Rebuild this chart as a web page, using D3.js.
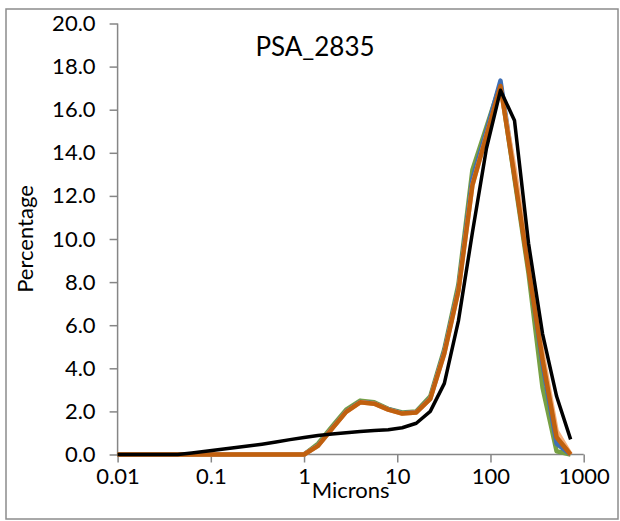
<!DOCTYPE html>
<html><head><meta charset="utf-8">
<script src="https://cdn.jsdelivr.net/npm/d3@7"></script>
<style>
html,body{margin:0;padding:0;background:#fff;}
svg{display:block;}
text{font-family:Lato,"Liberation Sans",sans-serif;fill:#000;}
</style>
</head><body>
<svg id="chart" width="620" height="521"></svg>
<script>
const microns = [0.01, 0.0156, 0.0221, 0.0313, 0.0442, 0.0625, 0.0884, 0.125, 0.177, 0.25, 0.354, 0.5, 0.707,
  1, 1.41, 2, 2.83, 4, 5.66, 8, 11.3, 16, 22.6, 32, 45.3, 64, 90.5, 128, 181, 256, 362, 512, 724];
const zeros13 = [0,0,0,0,0,0,0,0,0,0,0,0,0];
const seriesGreen  = zeros13.concat([0, 0.5, 1.3, 2.08, 2.5, 2.42, 2.12, 1.95, 2.0, 2.7, 4.9, 7.9, 13.2, 15.2, 17.2, 12.8, 8.4, 3.1, 0.15, 0]);
const seriesBlue   = zeros13.concat([0, 0.42, 1.22, 2.0, 2.44, 2.38, 2.1, 1.92, 1.97, 2.62, 4.8, 7.7, 12.8, 15.0, 17.35, 13.0, 8.7, 4.2, 0.5, 0]);
const seriesPeach  = zeros13.concat([0, 0.4, 1.2, 1.98, 2.42, 2.36, 2.08, 1.9, 1.95, 2.58, 4.7, 7.6, 12.5, 14.8, 17.0, 13.3, 9.0, 4.7, 1.1, 0]);
const seriesOrange = zeros13.concat([0, 0.4, 1.2, 1.98, 2.42, 2.36, 2.08, 1.9, 1.95, 2.58, 4.7, 7.6, 12.5, 14.8, 17.1, 12.9, 8.6, 4.4, 0.8, 0]);
const seriesBlack  = [0, 0, 0, 0, 0, 0.07, 0.15, 0.23, 0.31, 0.39, 0.48, 0.58, 0.69,
  0.79, 0.88, 0.95, 1.01, 1.07, 1.11, 1.15, 1.24, 1.45, 2.0, 3.3, 6.2, 10.3, 14.2, 16.9, 15.5, 9.8, 5.6, 2.7, 0.7];
const xTickValues = [0.01, 0.1, 1, 10, 100, 1000];
const xTickLabels = ["0.01", "0.1", "1", "10", "100", "1000"];
const yTickValues = [0, 2, 4, 6, 8, 10, 12, 14, 16, 18, 20];
const titleText = "PSA_2835";
const xTitle = "Microns";
const yTitle = "Percentage";

const svg = d3.select("#chart");
const pL = 117.6, pR = 583.7, pT = 23.5, pB = 454.5;

svg.append("rect").attr("x", 6).attr("y", 9).attr("width", 612).attr("height", 510)
  .attr("fill", "#fff").attr("stroke", "#8c8c8c").attr("stroke-width", 1.5);

const x = d3.scaleLog().domain([0.01, 1000]).range([pL, pR]);
const y = d3.scaleLinear().domain([0, 20]).range([pB, pT]);

const axisColor = "#868686";
const yAxis = svg.append("g").attr("transform", `translate(${pL},0)`)
  .call(d3.axisLeft(y).tickValues(yTickValues).tickFormat(d3.format(".1f")).tickSize(8).tickPadding(14));
const xAxis = svg.append("g").attr("transform", `translate(0,${pB})`)
  .call(d3.axisBottom(x).tickValues(xTickValues).tickFormat((d, i) => xTickLabels[i]).tickSize(8).tickPadding(6));
[xAxis, yAxis].forEach(g => {
  g.select(".domain").attr("stroke", axisColor).attr("stroke-width", 1.5);
  g.selectAll(".tick line").attr("stroke", axisColor).attr("stroke-width", 1.5);
  g.selectAll(".tick text").attr("font-size", 22).attr("fill", "#000").style("font-family", "Lato, 'Liberation Sans', sans-serif");
});
yAxis.select(".domain").attr("d", `M0,${pB}V${pT}`);
xAxis.select(".domain").attr("d", `M${pL},0H${pR}`);

const line = d3.line().x((d, i) => x(microns[i])).y(d => y(d));
const series = [
  {v: seriesGreen, c: "#77A043", w: 4.5},
  {v: seriesBlue, c: "#3F6FB5", w: 4.5},
  {v: seriesPeach, c: "#F6B07E", w: 4.5},
  {v: seriesOrange, c: "#C0600F", w: 4.5},
  {v: seriesBlack, c: "#000000", w: 3.5}
];
series.forEach(s => {
  svg.append("path").datum(s.v).attr("d", line).attr("fill", "none")
    .attr("stroke", s.c).attr("stroke-width", s.w)
    .attr("stroke-linejoin", "round").attr("stroke-linecap", "butt");
});

svg.append("text").attr("x", 315).attr("y", 56).attr("text-anchor", "middle")
  .attr("font-size", 26).text(titleText);
svg.append("text").attr("x", (pL + pR) / 2).attr("y", 498).attr("text-anchor", "middle")
  .attr("font-size", 22).text(xTitle);
svg.append("text").attr("transform", `translate(33,${(pT + pB) / 2}) rotate(-90)`)
  .attr("text-anchor", "middle").attr("font-size", 22).text(yTitle);
</script>
</body></html>
